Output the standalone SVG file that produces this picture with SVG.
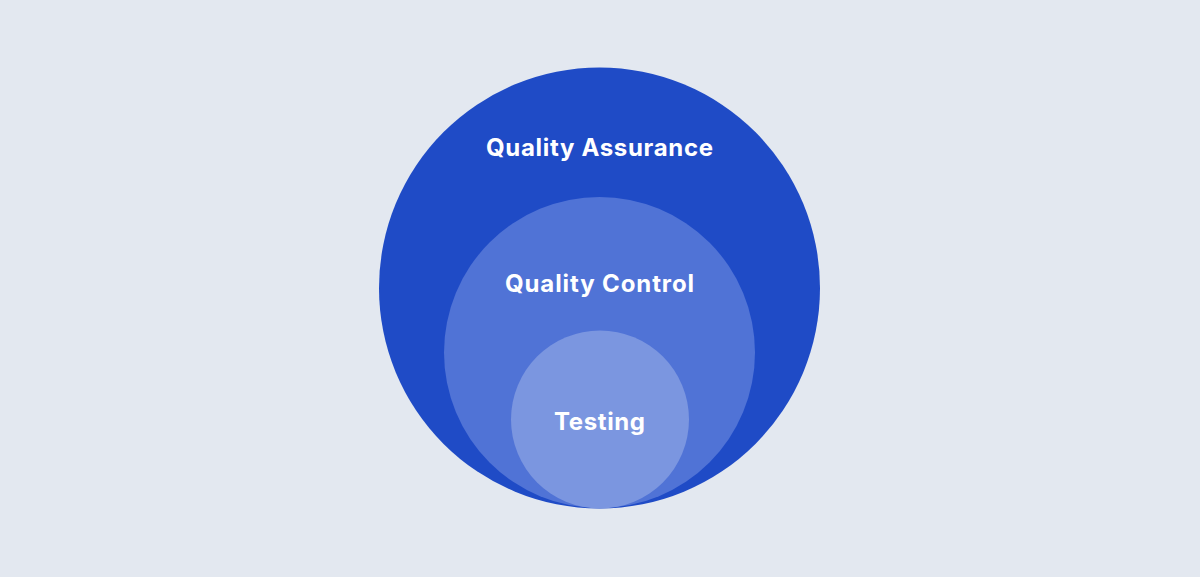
<svg xmlns="http://www.w3.org/2000/svg" width="1200" height="577" viewBox="0 0 1200 577">
<style>
.lbl{font-family:Inter,"Noto Sans","Liberation Sans",sans-serif;font-weight:700;fill:#ffffff;text-anchor:middle;font-size:24px}
</style>
<rect width="1200" height="577" fill="#e3e8f0"/>
<g id="quality-assurance">
<circle cx="599.5" cy="288" r="220.5" fill="#1f4bc6"/>
<text class="lbl" x="599.5" y="156" textLength="227" lengthAdjust="spacing">Quality Assurance</text>
</g>
<g id="quality-control">
<circle cx="599.5" cy="352.5" r="155.5" fill="#5073d6"/>
<text class="lbl" x="599.5" y="292" textLength="189" lengthAdjust="spacing">Quality Control</text>
</g>
<g id="testing">
<circle cx="600" cy="419.5" r="89" fill="#7b96e0"/>
<text class="lbl" x="599.5" y="430" textLength="91" lengthAdjust="spacing">Testing</text>
</g>
<g id="connectors"/>
</svg>
